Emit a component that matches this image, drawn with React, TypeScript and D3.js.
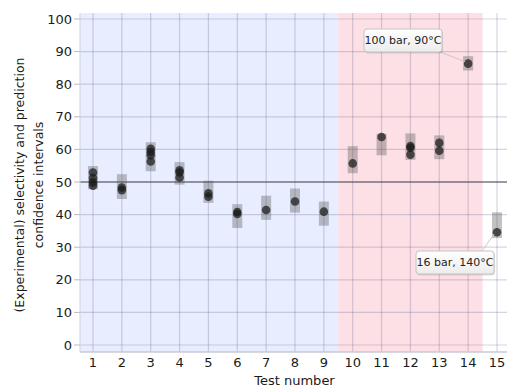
import React from "react";
import * as d3 from "d3";

const tests = [1, 2, 3, 4, 5, 6, 7, 8, 9, 10, 11, 12, 13, 14, 15];
const pointValues: number[][] = [
  [52.9, 51.2, 49.9, 48.9],
  [48.3, 47.5],
  [60.2, 59.2, 58.2, 56.3],
  [53.6, 52.9, 51.4],
  [46.5, 45.5],
  [40.8, 40.2],
  [41.4],
  [44.0],
  [40.9],
  [55.7],
  [63.8],
  [61.0, 60.5, 58.4],
  [62.0, 59.6],
  [86.3],
  [34.6],
];
const intervalLow = [47.8, 44.8, 53.3, 49.2, 43.6, 35.9, 38.4, 40.6, 36.6, 52.7, 58.2, 56.8, 57.0, 84.2, 32.8];
const intervalHigh = [54.9, 52.4, 62.2, 56.1, 50.4, 43.2, 45.8, 48.0, 44.0, 61.0, 64.8, 64.9, 64.3, 88.6, 40.7];
const yTicks = [0, 10, 20, 30, 40, 50, 60, 70, 80, 90, 100];
const referenceLine = 50;
const regions = [
  { from: 0.5, to: 9.5, color: "#e8eeff" },
  { from: 9.5, to: 14.5, color: "#fde0e5" },
];
const callouts = [
  { test: 14, value: 86.3, label: "100 bar, 90°C", bx: 364, by: 29 },
  { test: 15, value: 34.6, label: "16 bar, 140°C", bx: 416, by: 251 },
];

const W = 507, H = 389;
const plotL = 80, plotR = 512, plotT = 13, plotB = 352;
const font = "DejaVu Sans, sans-serif";

export default function App() {
  const x = d3.scaleLinear().domain([1, 15]).range([93, 497]);
  const y = d3.scaleLinear().domain([0, 100]).range([345, 19]);
  const bw = 10;
  return (
    <svg width={W} height={H} style={{ position: "absolute", left: 0, top: 0, fontFamily: font }}>
      <defs>
        <linearGradient id="cg" x1="0" y1="0" x2="0" y2="1">
          <stop offset="0" stopColor="#ffffff" />
          <stop offset="1" stopColor="#ececec" />
        </linearGradient>
        <clipPath id="pc"><rect x={plotL} y={plotT} width={plotR - plotL} height={plotB - plotT} /></clipPath>
      </defs>
      <rect x={0} y={0} width={W} height={H} fill="#fff" />
      <g clipPath="url(#pc)">
        {regions.map((r, i) => (
          <rect key={i} x={Math.max(plotL, x(r.from))} y={plotT} width={x(r.to) - Math.max(plotL, x(r.from))} height={plotB - plotT} fill={r.color} />
        ))}
        {tests.map((t) => (
          <line key={"vx" + t} x1={x(t)} x2={x(t)} y1={plotT} y2={plotB} stroke="rgba(100,100,140,0.27)" strokeWidth={1.2} />
        ))}
        {yTicks.map((v) => (
          <line key={"hy" + v} x1={plotL} x2={plotR} y1={y(v)} y2={y(v)} stroke="rgba(100,100,140,0.27)" strokeWidth={1.2} />
        ))}
        <line x1={plotL} x2={plotR} y1={y(referenceLine)} y2={y(referenceLine)} stroke="#4a4a55" strokeWidth={1.2} />
        {tests.map((t, i) => (
          <rect key={"b" + t} x={x(t) - bw / 2} y={y(intervalHigh[i])} width={bw} height={y(intervalLow[i]) - y(intervalHigh[i])} fill="rgba(80,80,80,0.35)" />
        ))}
        {tests.map((t, i) =>
          pointValues[i].map((v, j) => (
            <circle key={"p" + t + "_" + j} cx={x(t)} cy={y(v)} r={4.3} fill="rgba(25,25,25,0.72)" />
          ))
        )}
      </g>
      <line x1={plotL} x2={plotR} y1={plotB} y2={plotB} stroke="#c8cad4" strokeWidth={1.5} />
      <line x1={plotL} x2={plotL} y1={plotT} y2={plotB} stroke="#d0d2dc" strokeWidth={1} />
      {yTicks.map((v) => (
        <g key={"yt" + v}>
          <line x1={plotL - 6} x2={plotL} y1={y(v)} y2={y(v)} stroke="#b8bac4" />
          <text x={plotL - 8} y={y(v)} dy="0.35em" textAnchor="end" fontSize={13} fill="#1a1a1a">{v}</text>
        </g>
      ))}
      {tests.map((t) => (
        <text key={"xt" + t} x={x(t)} y={367} textAnchor="middle" fontSize={13} fill="#1a1a1a">{t}</text>
      ))}
      <text x={(plotL + 507) / 2 + 1} y={385} textAnchor="middle" fontSize={13} fill="#1a1a1a">Test number</text>
      <g transform="translate(24,185) rotate(-90)">
        <text x={0} y={0} textAnchor="middle" fontSize={12.5} fill="#1a1a1a">(Experimental) selectivity and prediction</text>
        <text x={0} y={19} textAnchor="middle" fontSize={12.5} fill="#1a1a1a">confidence intervals</text>
      </g>
      {callouts.map((c, i) => {
        const px = x(c.test), py = y(c.value);
        const bwid = 78, bh = 23;
        const ax = i === 0 ? c.bx + bwid - 2 : c.bx + bwid - 12;
        const ay = i === 0 ? c.by + bh : c.by;
        return (
          <g key={"c" + i}>
            <line x1={ax} y1={ay} x2={px - 3} y2={py + (i === 0 ? -2 : 2)} stroke="#c8c8c8" strokeWidth={1} />
            <rect x={c.bx + 1} y={c.by + 1.5} width={bwid} height={bh} rx={3} fill="rgba(0,0,0,0.12)" />
            <rect x={c.bx} y={c.by} width={bwid} height={bh} rx={3} fill="url(#cg)" stroke="#c4c4c4" />
            <text x={c.bx + bwid / 2} y={c.by + bh / 2} dy="0.35em" textAnchor="middle" fontSize={11} fill="#222">{c.label}</text>
          </g>
        );
      })}
    </svg>
  );
}
